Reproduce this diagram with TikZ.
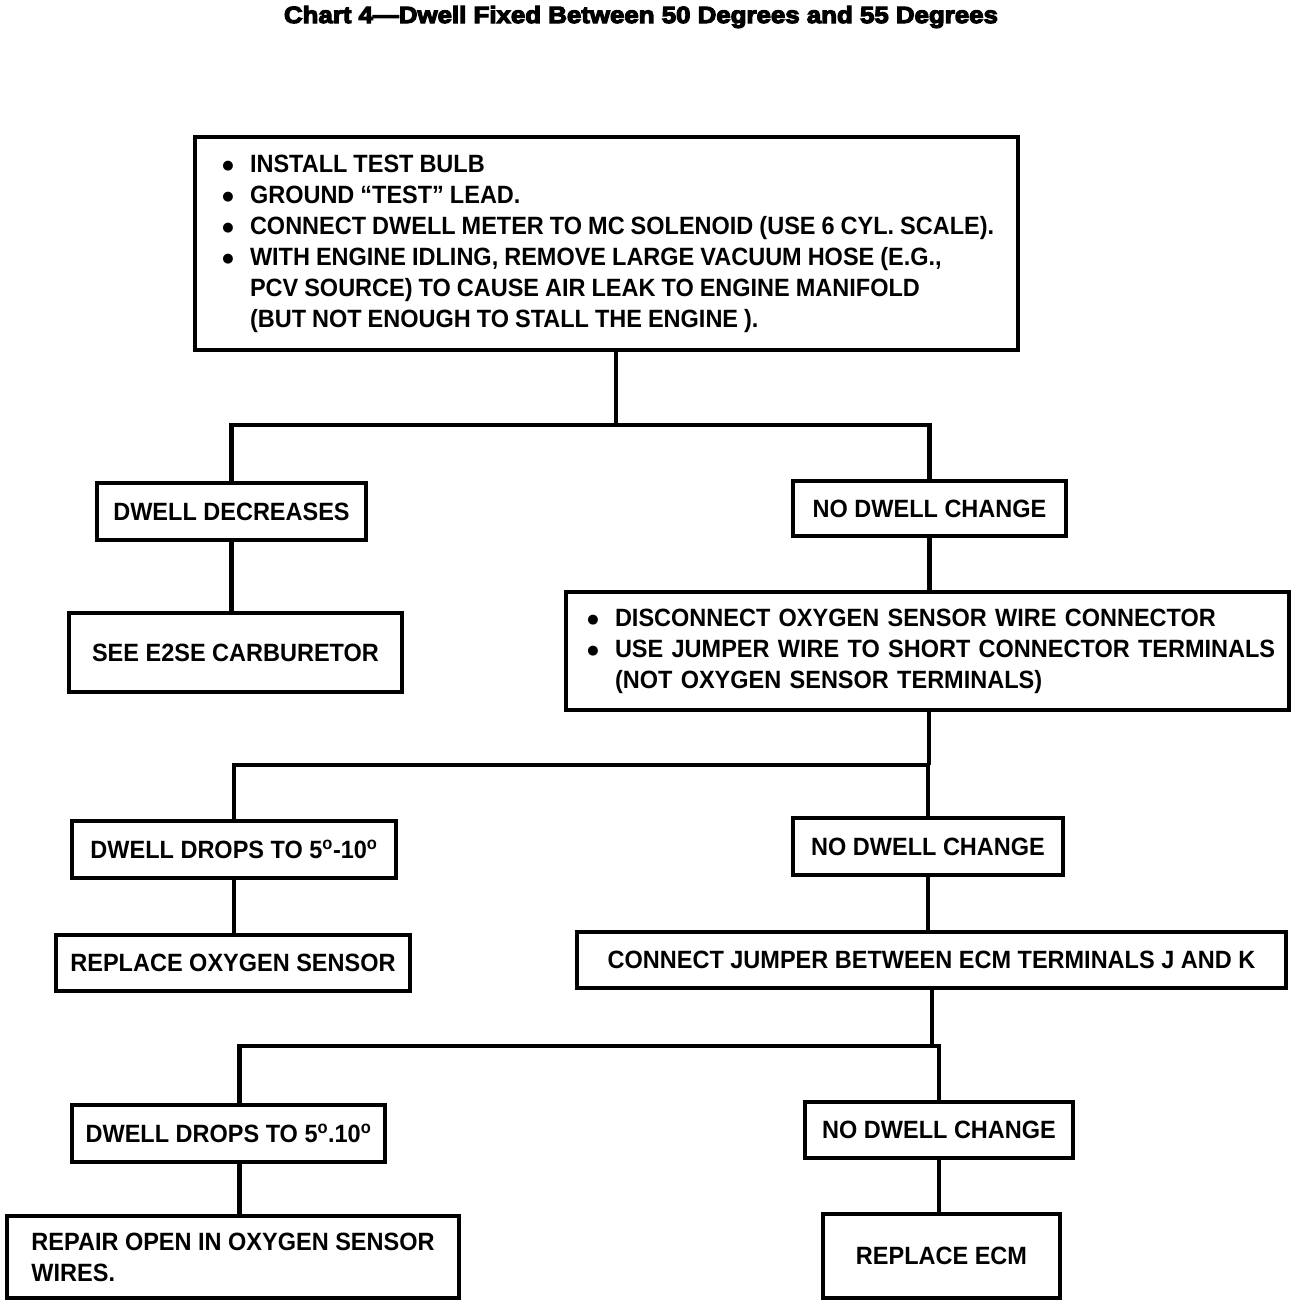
\documentclass[tikz,border=0pt]{standalone}
\usepackage{fontspec}
\setmainfont{Liberation Sans}[FakeStretch=0.94]
\newfontfamily\titlefont{Liberation Sans}[FakeStretch=1.1,FakeBold=5]
\newfontfamily\dotfont{DejaVu Sans}
\newcommand{\bul}{\makebox[44pt]{\raisebox{3pt}{\dotfont\fontsize{13}{13}\selectfont ●}}}
\newcommand{\cnt}{\hspace*{44pt}}

\begin{document}
\begin{tikzpicture}[x=1pt,y=-1pt,line width=4.5pt,font=\fontsize{25}{31}\selectfont\bfseries]
    \tikzstyle{chartbox}=[draw,inner sep=0pt,align=center]
    \useasboundingbox (0,0) rectangle (1312,1310);
    \node (title) at (641,17) {\titlefont\fontsize{23.5}{26}\selectfont\bfseries Chart 4—Dwell Fixed Between 50 Degrees and 55 Degrees};
    \node[chartbox,minimum width=823pt,minimum height=213pt,text width=801pt,align=left] (setup) at (606.5,243.5)
    {\spaceskip=6pt\relax
     \mbox{\bul INSTALL TEST BULB}\\
     \mbox{\bul GROUND “TEST” LEAD.}\\
     \mbox{\bul CONNECT DWELL METER TO MC SOLENOID (USE 6 CYL. SCALE).}\\
     \mbox{\bul WITH ENGINE IDLING, REMOVE LARGE VACUUM HOSE (E.G.,}\\
     \mbox{\cnt PCV SOURCE) TO CAUSE AIR LEAK TO ENGINE MANIFOLD}\\
     \mbox{\cnt (BUT NOT ENOUGH TO STALL THE ENGINE ).}};
    \node[chartbox,minimum width=269pt,minimum height=57pt] (dec) at (231.5,511.5) {DWELL DECREASES};
    \node[chartbox,minimum width=273pt,minimum height=55pt] (ndc1) at (929.5,508.5) {NO DWELL CHANGE};
    \node[chartbox,minimum width=333pt,minimum height=79pt] (see) at (235.5,652.5) {SEE E2SE CARBURETOR};
    \node[chartbox,minimum width=723pt,minimum height=118pt,text width=713pt,align=left] (sensor) at (927.5,651)
    {\mbox{\bul DISCONNECT OXYGEN SENSOR WIRE CONNECTOR}\\
     \mbox{\bul USE JUMPER WIRE TO SHORT CONNECTOR TERMINALS}\\
     \mbox{\cnt (NOT OXYGEN SENSOR TERMINALS)}};
    \node[chartbox,minimum width=324pt,minimum height=57pt] (drop1) at (234,849.5) {DWELL DROPS TO 5\textsuperscript{o}-10\textsuperscript{o}};
    \node[chartbox,minimum width=270pt,minimum height=57pt] (ndc2) at (928,846.5) {NO DWELL CHANGE};
    \node[chartbox,minimum width=354pt,minimum height=56pt] (repox) at (233,963) {REPLACE OXYGEN SENSOR};
    \node[chartbox,minimum width=709pt,minimum height=56pt] (jumper) at (931.5,960) {CONNECT JUMPER BETWEEN ECM TERMINALS J AND K};
    \node[chartbox,minimum width=313pt,minimum height=57pt] (drop2) at (228.5,1133.5) {DWELL DROPS TO 5\textsuperscript{o}.10\textsuperscript{o}};
    \node[chartbox,minimum width=268pt,minimum height=56pt] (ndc3) at (939,1130) {NO DWELL CHANGE};
    \node[chartbox,minimum width=452pt,minimum height=82pt,align=left] (repair) at (233,1257)
    {REPAIR OPEN IN OXYGEN SENSOR\\WIRES.};
    \node[chartbox,minimum width=237pt,minimum height=84pt] (ecm) at (941.5,1256) {REPLACE ECM};
    % first split
    \coordinate (j1) at (616,425);
    \draw (setup.south -| j1) -- (j1);
    \draw (dec.north) |- (j1) -| (ndc1.north);
    \draw (dec.south) -- (dec.south |- see.north);
    \draw (ndc1.south) -- (ndc1.south |- sensor.north);
    % second split
    \coordinate (j2) at (929,765);
    \draw (sensor.south -| j2) -- (j2);
    \draw (drop1.north) |- (j2) -| (ndc2.north);
    \draw (drop1.south) -- (drop1.south |- repox.north);
    \draw (ndc2.south) -- (ndc2.south |- jumper.north);
    % third split
    \coordinate (j3) at (932,1046);
    \draw (jumper.south -| j3) -- (j3);
    \draw ([xshift=11pt]drop2.north) |- (j3) -| (ndc3.north);
    \draw ([xshift=11pt]drop2.south) -- ([xshift=11pt]drop2.south |- repair.north);
    \draw (ndc3.south) -- (ndc3.south |- ecm.north);
\end{tikzpicture}
\end{document}
